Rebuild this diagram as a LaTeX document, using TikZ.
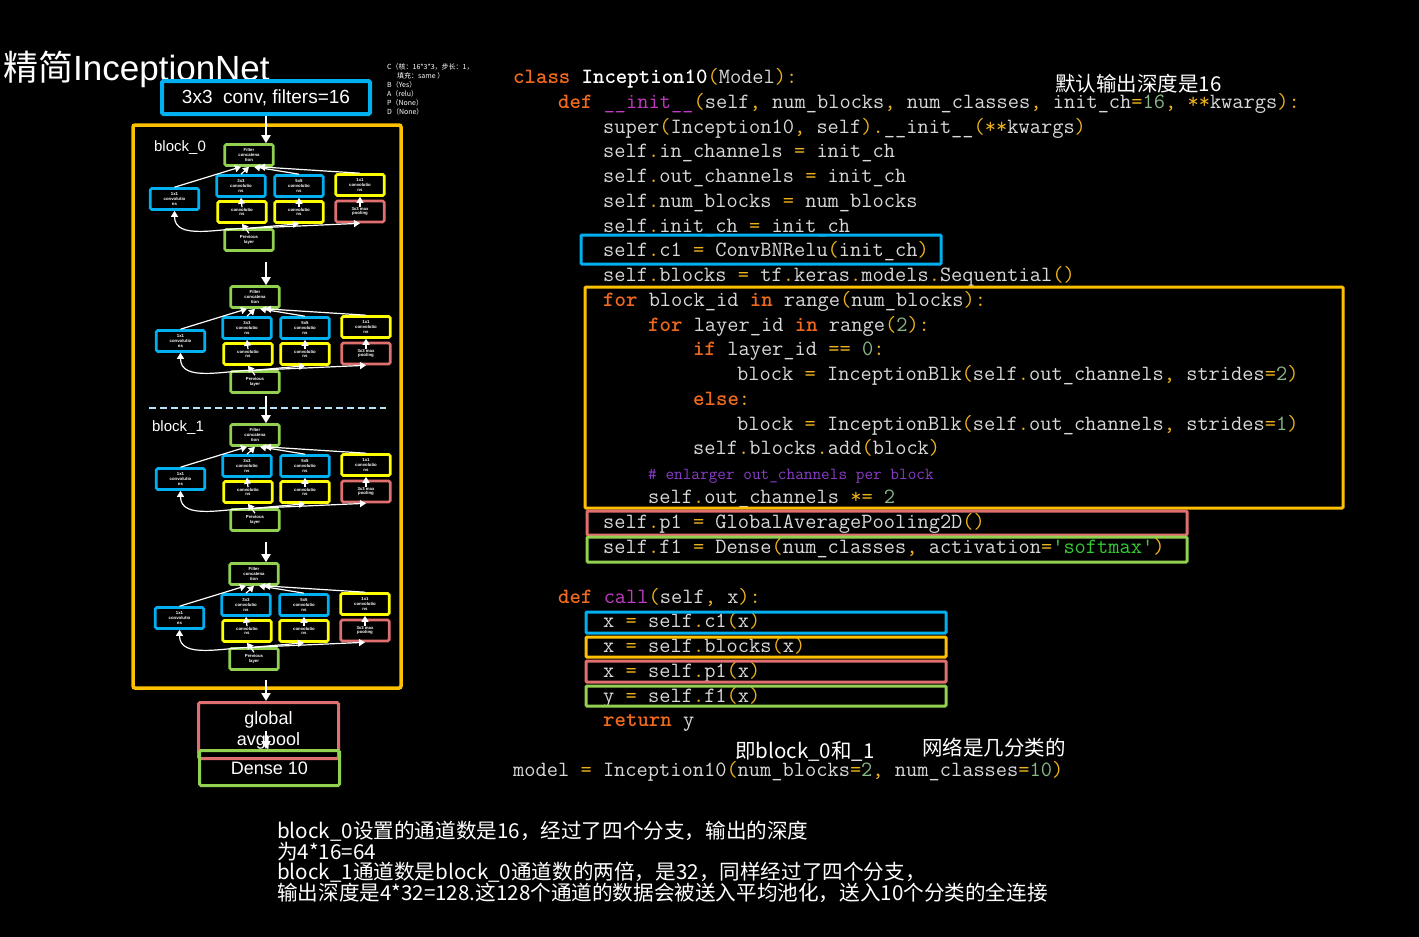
\documentclass[tikz,border=0pt]{standalone}
\usepackage{fontspec}
\setmainfont{Liberation Sans}
\newfontfamily\cjk{Noto Sans CJK SC}
\usepackage{tikz}
\usetikzlibrary{positioning, arrows.meta, calc}
\definecolor{incblue}{HTML}{00B0F0}
\definecolor{incyellow}{HTML}{FFFF00}
\definecolor{incgreen}{HTML}{92D050}
\definecolor{incpink}{HTML}{E07070}
\definecolor{incorange}{HTML}{FFC000}
\definecolor{codetext}{HTML}{D9D9D9}
\definecolor{kwcol}{HTML}{F06A1E}
\definecolor{pucol}{HTML}{EDB21C}
\definecolor{numcol}{HTML}{88B888}
\definecolor{strcol}{HTML}{33CC33}
\definecolor{fncol}{HTML}{C23BC2}
\definecolor{cmcol}{HTML}{8A3CC8}
\newcommand{\kw}[1]{\textcolor{kwcol}{\bfseries #1}}
\newcommand{\pu}[1]{\textcolor{pucol}{#1}}
\newcommand{\numc}[1]{\textcolor{numcol}{#1}}
\newcommand{\strc}[1]{\textcolor{strcol}{#1}}
\newcommand{\fnc}[1]{\textcolor{fncol}{#1}}
\newcommand{\tightlines}{\lineskiplimit=-20pt\relax}

\begin{document}
\begin{tikzpicture}[
  x=1pt, y=-1pt,
  mcell/.style={fill=black, line width=2.6pt, rounded corners=1.5pt,
                minimum width=48.5pt, minimum height=21pt, inner sep=1pt,
                align=center, text=white, font=\bfseries\fontsize{4.3}{4.8}\selectfont},
  bigbox/.style={line width=3pt, rounded corners=1.5pt, text=white,
                 align=center, font=\fontsize{18}{21}\selectfont},
  flow/.style={-{Triangle[width=9pt,length=8pt]}, white, line width=2.2pt},
  aflow/.style={-{Triangle[width=7pt,length=6pt]}, white, line width=1.2pt},
  hl/.style={line width=3pt, rounded corners=1pt},
  codeln/.style={anchor=base west, inner sep=0, text=codetext,
                 font=\ttfamily\fontsize{21.8}{24}\selectfont},
  note/.style={anchor=base west, inner sep=0, text=white,
               font=\cjk\fontsize{20.5}{24}\selectfont}
]
  \useasboundingbox (0,0) rectangle (1419,937);
  \fill[black] (0,0) rectangle (1419,937);

  % title and conv settings
  \node[anchor=base west, inner sep=0, text=white] (title) at (3,80)
    {{\cjk\fontsize{35}{40}\selectfont 精简}{\fontsize{35}{40}\selectfont InceptionNet}};
  \node[anchor=north west, inner sep=0, text=white, align=left,
        font=\cjk\fontsize{7}{9}\selectfont] (cset) at (387,63)
    {C（核：16*3*3，步长：1，\\\hspace{10pt}填充：same ）\\B（Yes）\\A（relu）\\P（None）\\D（None）};

  \node[bigbox, draw=incblue, line width=4pt, fill=black, minimum width=208pt,
        minimum height=33pt, font=\fontsize{19}{22}\selectfont] (top) at (266,97.5)
    {3x3\ \ conv, filters=16};

  \draw[incorange, line width=3.5pt, rounded corners=2pt] (133,125) rectangle (401,688);
  \node[text=white, font=\fontsize{15}{17}\selectfont] (lbl0) at (180,148) {block\_0};
  \node[text=white, font=\fontsize{15}{17}\selectfont] (lbl1) at (178,428) {block\_1};

  % four inception modules
  \foreach \m/\dx/\dy in {1/0/0, 2/6/142, 3/6/280, 4/5/419} {
    \begin{scope}[shift={(\dx,\dy)}]
      \node[mcell, draw=incgreen]  (cat\m)  at (249,155)   {Filter\\concatena\\tion};
      \node[mcell, draw=incblue]   (ba\m)   at (174.5,199) {1x1\\convolutio\\ns};
      \node[mcell, draw=incblue]   (bb\m)   at (241,186)   {3x3\\convolutio\\ns};
      \node[mcell, draw=incblue]   (bc\m)   at (299,186)   {5x5\\convolutio\\ns};
      \node[mcell, draw=incyellow] (yd\m)   at (360,185)   {1x1\\convolutio\\ns};
      \node[mcell, draw=incyellow] (yb\m)   at (242,212)   {convolutio\\ns};
      \node[mcell, draw=incyellow] (yc\m)   at (299,212)   {convolutio\\ns};
      \node[mcell, draw=incpink]   (mp\m)   at (360,211.5) {3x3 max\\pooling};
      \node[mcell, draw=incgreen]  (prev\m) at (249,240)   {Previous\\layer};

      \draw[aflow] (prev\m.north) to[out=180, in=-90] (ba\m.south);
      \draw[aflow] (prev\m.north) -- (yc\m.south);
      \draw[aflow] (prev\m.north) -- (mp\m.south);
      \draw[aflow] ([yshift=-5pt]prev\m.north) -- (yb\m.south);
      \draw[aflow] ([yshift=-7pt]yb\m.north) -- (bb\m.south);
      \draw[aflow] ([yshift=-7pt]yc\m.north) -- (bc\m.south);
      \draw[aflow] ([yshift=-7pt]mp\m.north) -- (yd\m.south);
      \draw[aflow] (ba\m.north) -- ([xshift=-8pt]cat\m.south);
      \draw[aflow] (bb\m.north) -- (cat\m.south);
      \draw[aflow] (bc\m.north) -- ([xshift=5pt]cat\m.south);
      \draw[aflow] (yd\m.north) -- ([xshift=10pt]cat\m.south);
    \end{scope}
  }

  \draw[white!70!cyan, line width=1.2pt, dash pattern=on 7pt off 4pt] (149,408) -- (386,408);

  \node[bigbox, draw=incpink, minimum width=140pt, minimum height=56pt] (pool) at (268.5,730.5)
    {global\\avgpool};
  \node[bigbox, draw=incgreen, minimum width=140pt, minimum height=35pt] (dense) at (269.5,768)
    {Dense 10};

  \draw[flow] (top.south) -- (top.south |- cat1.north);
  \draw[flow] ($(prev1.south -| top.south)+(0,10)$) -- (top.south |- cat2.north);
  \draw[flow] ($(prev2.south -| top.south)+(0,2)$)  -- (top.south |- cat3.north);
  \draw[flow] ($(prev3.south -| top.south)+(0,10)$) -- (top.south |- cat4.north);
  \draw[flow] ($(prev4.south -| top.south)+(0,9)$)  -- (top.south |- pool.north);
  \draw[flow] (pool.center -| top.south) -- (top.south |- dense.north);

  % code listing
  \node[codeln] (ln1)  at (513,83)  {\kw{class} {\bfseries\color{white}Inception10}\pu{(}Model\pu{):}};
  \node[codeln] (ln2)  at (558,108) {\kw{def} \fnc{\_\_init\_\_}\pu{(}self\pu{,} num\_blocks\pu{,} num\_classes\pu{,} init\_ch\pu{=}\numc{16}\pu{,} \pu{**}kwargs\pu{):}};
  \node[codeln] (ln3)  at (603,133) {super\pu{(}Inception10\pu{,} self\pu{).}\_\_init\_\_\pu{(**}kwargs\pu{)}};
  \node[codeln] (ln4)  at (603,157) {self\pu{.}in\_channels \pu{=} init\_ch};
  \node[codeln] (ln5)  at (603,182) {self\pu{.}out\_channels \pu{=} init\_ch};
  \node[codeln] (ln6)  at (603,207) {self\pu{.}num\_blocks \pu{=} num\_blocks};
  \node[codeln] (ln7)  at (603,232) {self\pu{.}init\_ch \pu{=} init\_ch};
  \node[codeln] (ln8)  at (603,256) {self\pu{.}c1 \pu{=} ConvBNRelu\pu{(}init\_ch\pu{)}};
  \node[codeln] (ln9)  at (603,281) {self\pu{.}blocks \pu{=} tf\pu{.}keras\pu{.}models\pu{.}Sequential\pu{()}};
  \node[codeln] (ln10) at (603,306) {\kw{for} block\_id \kw{in} range\pu{(}num\_blocks\pu{):}};
  \node[codeln] (ln11) at (648,331) {\kw{for} layer\_id \kw{in} range\pu{(}\numc{2}\pu{):}};
  \node[codeln] (ln12) at (693,355) {\kw{if} layer\_id \pu{==} \numc{0}\pu{:}};
  \node[codeln] (ln13) at (737,380) {block \pu{=} InceptionBlk\pu{(}self\pu{.}out\_channels\pu{,} strides\pu{=}\numc{2}\pu{)}};
  \node[codeln] (ln14) at (693,405) {\kw{else}\pu{:}};
  \node[codeln] (ln15) at (737,430) {block \pu{=} InceptionBlk\pu{(}self\pu{.}out\_channels\pu{,} strides\pu{=}\numc{1}\pu{)}};
  \node[codeln] (ln16) at (693,454) {self\pu{.}blocks\pu{.}add\pu{(}block\pu{)}};
  \node[codeln, text=cmcol, font=\ttfamily\fontsize{16.8}{18}\selectfont] (ln17) at (648,479)
    {\# enlarger out\_channels per block};
  \node[codeln] (ln18) at (648,503) {self\pu{.}out\_channels \pu{*=} \numc{2}};
  \node[codeln] (ln19) at (603,528) {self\pu{.}p1 \pu{=} GlobalAveragePooling2D\pu{()}};
  \node[codeln] (ln20) at (603,553) {self\pu{.}f1 \pu{=} Dense\pu{(}num\_classes\pu{,} activation\pu{=}\strc{\textquotesingle softmax\textquotesingle}\pu{)}};
  \node[codeln] (ln21) at (558,603) {\kw{def} \fnc{call}\pu{(}self\pu{,} x\pu{):}};
  \node[codeln] (ln22) at (603,627) {x \pu{=} self\pu{.}c1\pu{(}x\pu{)}};
  \node[codeln] (ln23) at (603,652) {x \pu{=} self\pu{.}blocks\pu{(}x\pu{)}};
  \node[codeln] (ln24) at (603,677) {x \pu{=} self\pu{.}p1\pu{(}x\pu{)}};
  \node[codeln] (ln25) at (603,702) {y \pu{=} self\pu{.}f1\pu{(}x\pu{)}};
  \node[codeln] (ln26) at (603,726) {\kw{return} y};
  \node[codeln] (ln27) at (513,776) {model \pu{=} Inception10\pu{(}num\_blocks\pu{=}\numc{2}\pu{,} num\_classes\pu{=}\numc{10}\pu{)}};

  % highlight frames on the code
  \draw[hl, incblue]   (581,235) rectangle (941,264);
  \draw[hl, incorange] (585,287) rectangle (1343,508);
  \draw[hl, incpink]   (587,511) rectangle (1187,535);
  \draw[hl, incgreen]  (587,537) rectangle (1187,562);
  \draw[hl, incblue]   (586,612) rectangle (946,633);
  \draw[hl, incorange] (586,637) rectangle (946,657);
  \draw[hl, incpink]   (586,661) rectangle (946,682);
  \draw[hl, incgreen]  (586,686) rectangle (946,706);

  % notes
  \node[note] (deflt)    at (1055,91) {默认输出深度是16};
  \node[note] (blockids) at (735,758) {即block\_0和\_1};
  \node[note] (ncls)     at (922,755) {网络是几分类的};
  \node[note, anchor=north west, align=left,
        font=\cjk\fontsize{20.6}{20.5}\selectfont\tightlines] (summary) at (277,821)
    {block\_0设置的通道数是16，经过了四个分支，输出的深度\\为4*16=64\\
     block\_1通道数是block\_0通道数的两倍，是32，同样经过了四个分支，\\
     输出深度是4*32=128.这128个通道的数据会被送入平均池化，送入10个分类的全连接};
\end{tikzpicture}
\end{document}
